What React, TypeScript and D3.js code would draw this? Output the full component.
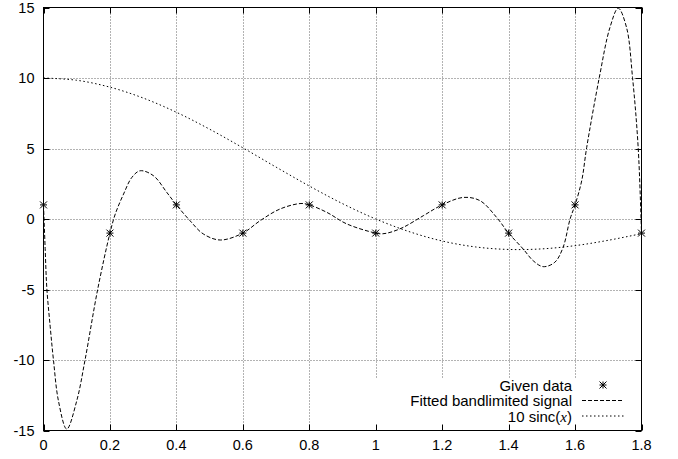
import * as d3 from 'd3';
import React, { useEffect, useRef } from 'react';

// given samples
const dataX = [0, 0.2, 0.4, 0.6, 0.8, 1.0, 1.2, 1.4, 1.6, 1.8];
const dataY = [1, -1, 1, -1, 1, -1, 1, -1, 1, -1];

// fitted bandlimited signal
const fitX = [0, 0.005, 0.01, 0.02, 0.03, 0.045, 0.07, 0.1, 0.125, 0.163, 0.2, 0.216, 0.241, 0.266, 0.291, 0.331, 0.371, 0.4, 0.441, 0.481, 0.532, 0.6, 0.652, 0.712, 0.775, 0.8, 0.853, 0.913, 1.0, 1.02, 1.043, 1.083, 1.143, 1.2, 1.264, 1.314, 1.364, 1.4, 1.444, 1.474, 1.504, 1.539, 1.564, 1.585, 1.6, 1.62, 1.635, 1.673, 1.705, 1.73, 1.755, 1.773, 1.79, 1.8];
const fitY = [1, -2.1, -4.9, -7.6, -10, -12.9, -14.9, -12.9, -10, -5, -1, 0.35, 1.77, 2.95, 3.42, 3.07, 1.89, 1.0, -0.12, -1.06, -1.49, -1.0, -0.12, 0.71, 1.1, 1.0, 0.47, -0.35, -1.0, -1.05, -0.95, -0.59, 0.23, 1.0, 1.53, 1.3, 0.11, -1.0, -2.13, -2.96, -3.38, -3.07, -2.01, 0, 1.0, 2.71, 5.07, 10.04, 13.58, 14.95, 13.58, 10.04, 5.07, -1.0];

// 10 sinc(x)
const sincX = [0, 0.1, 0.2, 0.3, 0.4, 0.5, 0.6, 0.7, 0.8, 0.9, 1.0, 1.1, 1.2, 1.3, 1.4, 1.5, 1.6, 1.7, 1.8];
const sincY = [10, 9.84, 9.35, 8.58, 7.57, 6.37, 5.05, 3.68, 2.34, 1.09, 0, -0.89, -1.56, -1.98, -2.16, -2.12, -1.89, -1.51, -1.04];

const xTicks = [0, 0.2, 0.4, 0.6, 0.8, 1, 1.2, 1.4, 1.6, 1.8];
const yTicks = [-15, -10, -5, 0, 5, 10, 15];

const legendItems = ['Given data', 'Fitted bandlimited signal', '10 sinc'];

const App = () => {
  const ref = useRef<SVGSVGElement>(null);

  useEffect(() => {
    const svg = d3.select(ref.current);
    svg.selectAll('*').remove();

    const left = 43.5, right = 641.5, top = 7.5, bottom = 430.5;
    const x = d3.scaleLinear().domain([0, 1.8]).range([left, right]);
    const y = d3.scaleLinear().domain([-15, 15]).range([bottom, top]);
    const font = 'Liberation Sans, Arial, sans-serif';

    const legTop = 378, legLeft = 370;

    // grid
    const grid = svg.append('g').attr('stroke', '#666').attr('stroke-width', 1).attr('stroke-dasharray', '1,2');
    xTicks.slice(1, -1).forEach(t => {
      const px = Math.round(x(t)) + 0.5;
      grid.append('line').attr('x1', px).attr('x2', px).attr('y1', top)
        .attr('y2', px > legLeft ? legTop : bottom);
    });
    yTicks.slice(1, -1).forEach(t => {
      const py = Math.round(y(t)) + 0.5;
      grid.append('line').attr('x1', left).attr('x2', right).attr('y1', py).attr('y2', py);
    });

    // ticks, mirrored
    const tk = svg.append('g').attr('stroke', '#000').attr('stroke-width', 1);
    xTicks.forEach(t => {
      const px = Math.round(x(t)) + 0.5;
      tk.append('line').attr('x1', px).attr('x2', px).attr('y1', bottom).attr('y2', bottom - 6);
      tk.append('line').attr('x1', px).attr('x2', px).attr('y1', top).attr('y2', top + 6);
    });
    yTicks.forEach(t => {
      const py = Math.round(y(t)) + 0.5;
      tk.append('line').attr('x1', left).attr('x2', left + 6).attr('y1', py).attr('y2', py);
      tk.append('line').attr('x1', right).attr('x2', right - 6).attr('y1', py).attr('y2', py);
    });

    svg.append('rect').attr('x', left).attr('y', top).attr('width', right - left).attr('height', bottom - top)
      .attr('fill', 'none').attr('stroke', '#000').attr('stroke-width', 1);

    // tick labels
    xTicks.forEach(t => {
      svg.append('text').attr('x', x(t)).attr('y', 450).attr('text-anchor', 'middle')
        .attr('font-family', font).attr('font-size', 14.5).text(String(t));
    });
    yTicks.forEach(t => {
      svg.append('text').attr('x', 34.5).attr('y', y(t) + 5).attr('text-anchor', 'end')
        .attr('font-family', font).attr('font-size', 14.5).text(String(t));
    });

    const line = d3.line<number>().curve(d3.curveCatmullRom.alpha(0.5));

    svg.append('path')
      .attr('d', line.x(i => x(sincX[i])).y(i => y(sincY[i]))(d3.range(sincX.length)))
      .attr('fill', 'none').attr('stroke', '#000').attr('stroke-width', 1).attr('stroke-dasharray', '1.5,2.5');

    svg.append('path')
      .attr('d', line.x(i => x(fitX[i])).y(i => y(fitY[i]))(d3.range(fitX.length)))
      .attr('fill', 'none').attr('stroke', '#000').attr('stroke-width', 1).attr('stroke-dasharray', '4,2');

    const star = (g: any, cx: number, cy: number) => {
      const s = 3.5;
      g.append('path')
        .attr('d', `M${cx - s},${cy}H${cx + s}M${cx},${cy - s}V${cy + s}M${cx - s},${cy - s}L${cx + s},${cy + s}M${cx - s},${cy + s}L${cx + s},${cy - s}`)
        .attr('stroke', '#000').attr('stroke-width', 1);
    };
    const pts = svg.append('g');
    dataX.forEach((d, i) => star(pts, x(d), y(dataY[i])));

    // legend
    const rows = [385, 400.5, 416];
    legendItems.forEach((s, i) => {
      const t = svg.append('text').attr('x', 572).attr('y', rows[i] + 5.5).attr('text-anchor', 'end')
        .attr('font-family', font).attr('font-size', 15);
      t.append('tspan').text(s);
      if (i === 2) {
        t.append('tspan').text('(');
        t.append('tspan').attr('font-family', 'Liberation Serif, serif').attr('font-style', 'italic').text('x');
        t.append('tspan').text(')');
      }
    });
    star(svg, 603, rows[0]);
    svg.append('line').attr('x1', 582).attr('x2', 624).attr('y1', rows[1]).attr('y2', rows[1])
      .attr('stroke', '#000').attr('stroke-dasharray', '4,2');
    svg.append('line').attr('x1', 582).attr('x2', 624).attr('y1', rows[2]).attr('y2', rows[2])
      .attr('stroke', '#000').attr('stroke-dasharray', '1.5,2.5');
  }, []);

  return (
    <svg ref={ref} width={678} height={459}
      style={{ position: 'absolute', left: 0, top: 0, background: '#fff' }} />
  );
};

export default App;
